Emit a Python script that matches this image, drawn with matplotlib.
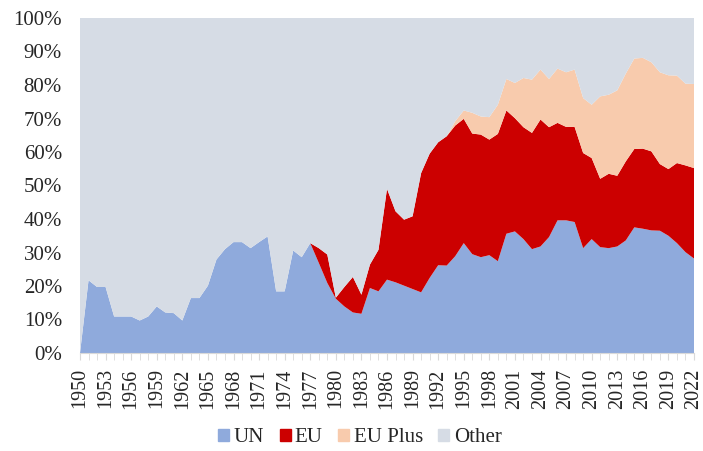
import matplotlib
matplotlib.use("Agg")
import matplotlib.pyplot as plt
import matplotlib.patches as mpatches
import numpy as np

plt.rcParams['font.family'] = ['Liberation Serif', 'DejaVu Serif']

years = list(range(1950, 2023))

# share of total (%)
un = [0.0, 21.7, 19.7, 19.7, 10.9, 10.9, 10.9, 9.7, 10.9, 13.9,
      12.1, 11.9, 9.7, 16.4, 16.4, 20.1, 27.9, 31.0, 33.1, 33.1,
      31.3, 33.1, 34.8, 18.4, 18.4, 30.6, 28.6, 32.8, 26.9, 20.9,
      16.2, 13.9, 12.1, 11.7, 19.4, 18.4, 21.9, 21.1, 20.1, 19.1,
      18.1, 22.4, 26.2, 26.1, 28.9, 32.8, 29.5, 28.6, 29.2, 27.4,
      35.6, 36.3, 34.0, 31.0, 31.8, 34.6, 39.6, 39.6, 39.1, 31.3,
      34.0, 31.6, 31.3, 31.8, 33.6, 37.5, 37.1, 36.6, 36.5, 35.0,
      32.8, 30.1, 28.2]

eu = [0.0] * 27 + [
      0.0, 4.4, 8.5,
      0.3, 5.8, 10.6, 5.7, 7.0, 12.4, 27.1, 21.2, 19.7, 21.7,
      35.6, 37.1, 36.7, 38.6, 39.0, 37.1, 36.0, 36.6, 34.5, 38.0,
      36.8, 33.8, 33.4, 34.7, 37.9, 32.8, 29.1, 27.9, 28.4, 28.4,
      24.2, 20.4, 22.2, 21.1, 23.6, 23.4, 23.9, 23.6, 19.9, 19.9,
      23.9, 25.9, 27.0]

eu_plus = [0.0] * 44 + [
      1.3, 2.5, 6.2, 5.4, 6.7, 8.7,
      9.4, 10.5, 14.7, 15.9, 14.9, 14.4, 16.2, 16.3, 17.1, 16.4,
      15.9, 24.6, 23.6, 25.5, 26.2, 27.0, 27.1, 26.6, 27.4, 28.0,
      26.1, 24.4, 25.1]

# 100% stacked: the rest is "Other"
other = [100 - a - b - c for a, b, c in zip(un, eu, eu_plus)]

labels = ['UN', 'EU', 'EU Plus', 'Other']
colors = ['#8FAADC', '#CC0000', '#F8CBAD', '#D6DCE5']

fig = plt.figure(figsize=(7.03, 4.51), dpi=100)
ax = fig.add_axes([80 / 703, 1 - 353 / 451, 614 / 703, 335 / 451])

ax.stackplot(years, un, eu, eu_plus, other, colors=colors, linewidth=0)

ax.set_xlim(1950, 2022)
ax.set_ylim(0, 100)
ax.set_yticks(np.arange(0, 101, 10))
ax.set_yticklabels([f'{v}%' for v in range(0, 101, 10)])
ax.set_xticks(years[::3])
ax.set_xticklabels([str(y) for y in years[::3]], rotation=90)
ax.set_xticks(years, minor=True)

for s in ['top', 'right', 'left']:
    ax.spines[s].set_visible(False)
ax.spines['bottom'].set_color('#D9D9D9')

ax.tick_params(axis='y', length=0, pad=13, labelsize=15, colors='#262626')
ax.tick_params(axis='x', which='both', length=5, color='#D9D9D9',
               direction='out')
ax.tick_params(axis='x', which='major', pad=6, labelsize=14.5,
               labelcolor='#262626')

handles = [mpatches.Patch(color=c, label=l) for c, l in zip(colors, labels)]
fig.legend(handles=handles, loc='center', bbox_to_anchor=(0.512, 0.029),
           ncol=4, frameon=False, fontsize=15, handlelength=0.53,
           handleheight=0.53, handletextpad=0.2, columnspacing=0.75,
           labelcolor='#262626')

fig.savefig('out.png', dpi=100)
